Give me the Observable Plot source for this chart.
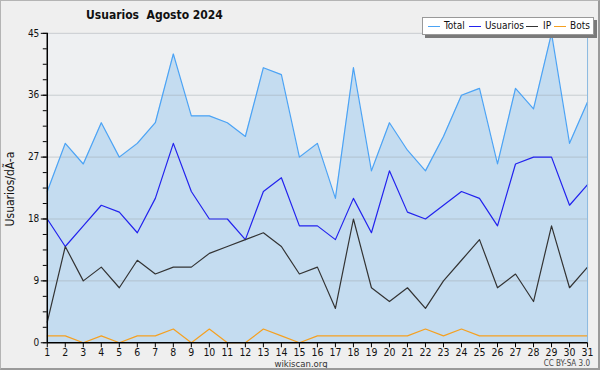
<!DOCTYPE html>
<html>
<head>
<meta charset="utf-8">
<script src="https://cdn.jsdelivr.net/npm/d3@7"></script>
<script src="https://cdn.jsdelivr.net/npm/@observablehq/plot@0.6"></script>
<style>
  html, body { margin: 0; padding: 0; background: #efefef; }
  #wrap { position: relative; width: 600px; height: 370px; box-sizing: border-box;
          border: 1px solid #b4b4b4; border-right: 2px solid #9a9a9a; border-bottom: 2px solid #9a9a9a;
          background: #efefef; font-family: "DejaVu Sans Condensed", "DejaVu Sans", sans-serif; overflow: hidden; }
  #chart { position: absolute; left: -1px; top: -1px; }
  .t { position: absolute; white-space: nowrap; color: #111; line-height: 1; }
  #title { left: 85px; top: 8px; font-size: 12px; font-weight: bold; }
  #ylab { left: 9px; top: 188px; font-size: 12px; transform: translate(-50%, -50%) rotate(-90deg); }
  #site { left: 300px; top: 358px; font-size: 9.5px; transform: translateX(-50%); color: #333; }
  #cc { right: 8px; top: 359px; font-size: 8px; color: #444; }
  #legend { position: absolute; left: 421px; top: 16px; width: 170px; height: 16px;
            background: #fff; border: 1px solid #999; box-shadow: 3px 3px 0 #7a7a7a; }
  .sw { position: absolute; top: 8px; width: 12px; height: 1px; }
  .lt { position: absolute; top: 3px; font-size: 10px; line-height: 1; color: #111; }
</style>
</head>
<body>
<div id="wrap">
  <div id="chart"></div>
  <div class="t" id="title">Usuarios&nbsp; Agosto 2024</div>
  <div class="t" id="ylab">Usuarios/dÃ-a</div>
  <div class="t" id="site">wikiscan.org</div>
  <div class="t" id="cc">CC BY-SA 3.0</div>
  <div id="legend"></div>
</div>
<script>
const days = d3.range(1, 32);
const total    = [22,29,26,32,27,29,32,42,33,33,32,30,40,39,27,29,21,40,25,32,28,25,30,36,37,26,37,34,45,29,35];
const usuarios = [18,14,17,20,19,16,21,29,22,18,18,15,22,24,17,17,15,21,16,25,19,18,20,22,21,17,26,27,27,20,23];
const ip       = [ 3,14, 9,11, 8,12,10,11,11,13,14,15,16,14,10,11, 5,18, 8, 6, 8, 5, 9,12,15, 8,10, 6,17, 8,11];
const bots     = [ 1, 1, 0, 1, 0, 1, 1, 2, 0, 2, 0, 0, 2, 1, 0, 1, 1, 1, 1, 1, 1, 2, 1, 2, 1, 1, 1, 1, 1, 1, 1];
const seriesNames = ["Total", "Usuarios", "IP", "Bots"];
const seriesColors = ["#4ba3f5", "#2222ee", "#333333", "#f5a020"];
const yMajor = [0, 9, 18, 27, 36, 45];
const yMinor = d3.range(0, 45.01, 2.25);

const data = days.map((d, i) => ({day: d, total: total[i], usuarios: usuarios[i], ip: ip[i], bots: bots[i]}));

const chart = Plot.plot({
  width: 601, height: 371,
  marginLeft: 47, marginRight: 11, marginTop: 33, marginBottom: 27,
  style: {background: "transparent", fontFamily: "DejaVu Sans Condensed, DejaVu Sans, sans-serif", fontSize: "10px", color: "#111"},
  x: {domain: [1, 31], axis: null},
  y: {domain: [0, 45], axis: null},
  marks: [
    Plot.frame({fill: "#eef0f2", stroke: null}),
    Plot.areaY(data, {x: "day", y: "total", fill: "#c4dcf0"}),
    Plot.gridY(yMajor.slice(1), {stroke: "#9aa0a8", strokeOpacity: 0.45}),
    Plot.lineY(data, {x: "day", y: "total", stroke: seriesColors[0], strokeWidth: 1.2}),
    Plot.lineY(data, {x: "day", y: "usuarios", stroke: seriesColors[1], strokeWidth: 1.2}),
    Plot.lineY(data, {x: "day", y: "ip", stroke: seriesColors[2], strokeWidth: 1.2}),
    Plot.lineY(data, {x: "day", y: "bots", stroke: seriesColors[3], strokeWidth: 1.2}),
    Plot.ruleX([31], {stroke: "#8ab8e0"}),
    Plot.axisY(yMinor, {tickSize: 4, text: null, label: null, stroke: "#000"}),
    Plot.axisY(yMajor, {tickSize: 6, tickPadding: 2, label: null, stroke: "#000", fill: "#111"}),
    Plot.axisX(days, {tickSize: 5, tickPadding: 1, label: null, stroke: "#000", fill: "#111", fontSize: 10.5}),
    Plot.ruleX([1], {stroke: "#000", strokeWidth: 1.5}),
    Plot.ruleY([0], {stroke: "#000", strokeWidth: 1.5})
  ]
});
document.getElementById("chart").appendChild(chart);

const legend = document.getElementById("legend");
const swX = [5, 46, 103, 131];
const txX = [21, 62, 120, 147];
seriesNames.forEach((n, i) => {
  const sw = document.createElement("span");
  sw.className = "sw"; sw.style.left = swX[i] + "px"; sw.style.background = seriesColors[i];
  const tx = document.createElement("span");
  tx.className = "lt"; tx.style.left = txX[i] + "px"; tx.textContent = n;
  legend.appendChild(sw); legend.appendChild(tx);
});
</script>
</body>
</html>
